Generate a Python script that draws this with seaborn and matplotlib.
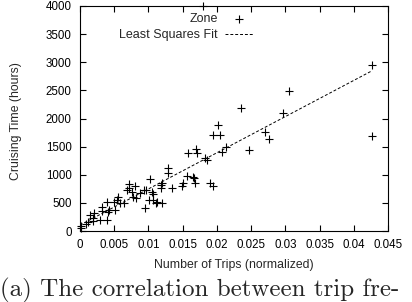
import matplotlib
matplotlib.use("Agg")
import matplotlib.pyplot as plt
import seaborn as sns
import numpy as np
import pandas as pd

# ---- data ----
trips = [
    0.0001, 0.0002, 0.0009, 0.0012, 0.0019, 0.0015, 0.0020, 0.0019, 0.0029, 0.0032,
    0.0032, 0.0039, 0.0041, 0.0042, 0.0040, 0.0049, 0.0054, 0.0051, 0.0058, 0.0056,
    0.0064, 0.0071, 0.0072, 0.0068, 0.0076, 0.0080, 0.0078, 0.0082, 0.0088, 0.0093,
    0.0096, 0.0095, 0.0101, 0.0102, 0.0105, 0.0106, 0.0107, 0.0111, 0.0120, 0.0112,
    0.0118, 0.0120, 0.0118, 0.0129, 0.0129, 0.0134, 0.0149, 0.0151, 0.0156, 0.0165,
    0.0167, 0.0168, 0.0190, 0.0194, 0.0185, 0.0183, 0.0158, 0.0171, 0.0170, 0.0207,
    0.0214, 0.0247, 0.0180, 0.0201, 0.0195, 0.0205, 0.0235, 0.0296, 0.0306, 0.0270,
    0.0276, 0.0426, 0.0426,
]
cruising = [
    48, 89, 124, 165, 180, 284, 314, 230, 195, 360,
    420, 195, 342, 372, 520, 520, 550, 372, 491, 608,
    502, 833, 757, 727, 697, 798, 608, 580, 668, 727,
    727, 402, 550, 917, 697, 656, 550, 491, 491, 520,
    815, 845, 757, 1112, 1034, 757, 798, 845, 975, 963,
    934, 856, 845, 798, 1259, 1290, 1378, 1378, 1466, 1400,
    1495, 1448, 4000, 1880, 1702, 1702, 2193, 2092, 2495, 1761,
    1644, 2955, 1690,
]
fit_slope = 64300.0
fit_intercept = 105.0
fit_range = [0.0, 0.0425]

xticks = [0, 0.005, 0.01, 0.015, 0.02, 0.025, 0.03, 0.035, 0.04, 0.045]
xtick_labels = ["0", "0.005", "0.01", "0.015", "0.02", "0.025", "0.03", "0.035", "0.04", "0.045"]
yticks = [0, 500, 1000, 1500, 2000, 2500, 3000, 3500, 4000]
ytick_labels = [str(v) for v in yticks]

xlabel = "Number of Trips (normalized)"
ylabel = "Cruising Time (hours)"
caption = "(a) The correlation between trip fre-"

# ---- plotting ----
sns.set_style("ticks")
plt.rcParams["font.family"] = ["Liberation Sans", "DejaVu Sans"]

fig = plt.figure(figsize=(4.12, 3.02), dpi=100)
ax = fig.add_axes([80 / 412, 1 - 231 / 302, 308 / 412, 225 / 302])

df = pd.DataFrame({"trips": trips, "cruising": cruising})
sns.scatterplot(data=df, x="trips", y="cruising", marker="+", color="black",
                s=40, linewidth=0.8, ax=ax, label="Zone", zorder=3, clip_on=False)

fx = np.array(fit_range)
fit_df = pd.DataFrame({"x": fx, "y": fit_intercept + fit_slope * fx})
sns.lineplot(data=fit_df, x="x", y="y", color="black", linewidth=0.7,
             dashes=False, ax=ax, label="Least Squares Fit")
ax.lines[-1].set_linestyle((0, (3, 2)))

ax.set_xlim(0, 0.045)
ax.set_ylim(0, 4000)
ax.set_xticks(xticks)
ax.set_xticklabels(xtick_labels)
ax.set_yticks(yticks)
ax.set_yticklabels(ytick_labels)
ax.tick_params(direction="in", length=4, width=0.8, top=True, right=True,
               labelsize=8.3, colors="black", pad=6)
for sp in ax.spines.values():
    sp.set_visible(True)
    sp.set_color("black")
    sp.set_linewidth(0.8)

ax.set_xlabel(xlabel, fontsize=8.8)
ax.xaxis.set_label_coords(0.5, -0.125)
ax.set_ylabel(ylabel, fontsize=8.8)
ax.yaxis.set_label_coords(-0.188, 0.49)

leg = ax.legend(loc="upper right", bbox_to_anchor=(0.585, 1.0), frameon=False,
                markerfirst=False, fontsize=9, handlelength=2.2,
                labelspacing=0.3, handletextpad=0.6, borderaxespad=0.2)

fig.text(0.0, 0.02, caption, family="cmr10", fontsize=18, ha="left", va="baseline")

fig.savefig("out.png", dpi=100)
